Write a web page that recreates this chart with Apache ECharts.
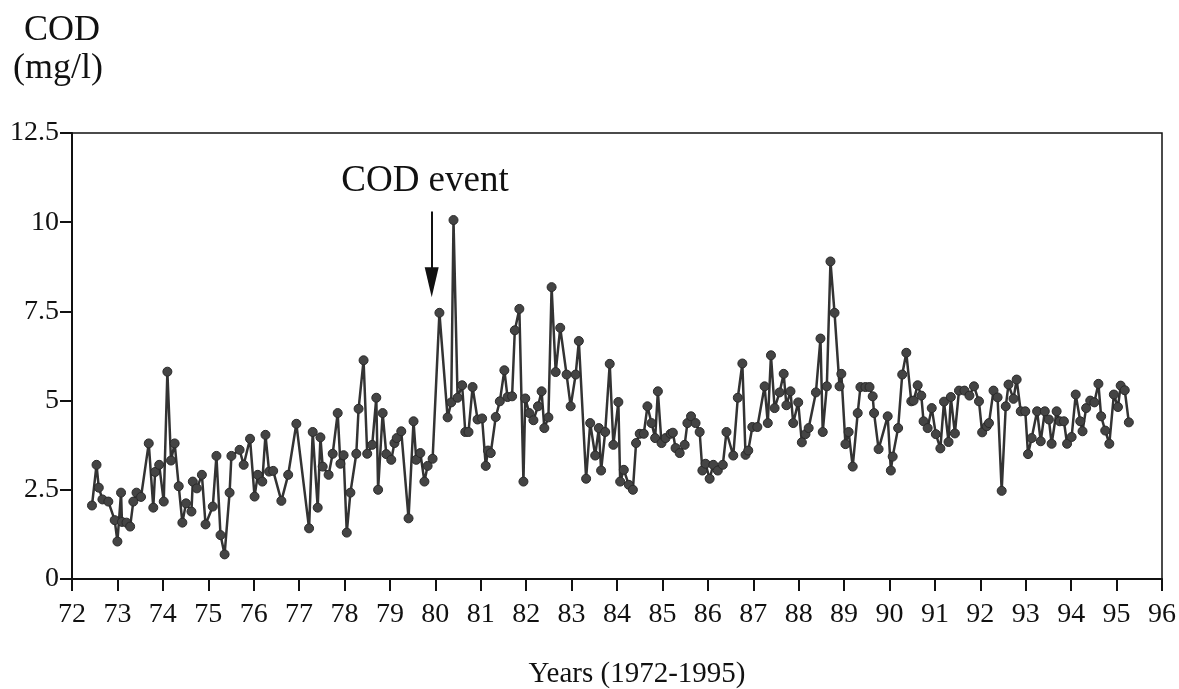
<!DOCTYPE html>
<html>
<head>
<meta charset="utf-8">
<script src="https://cdn.jsdelivr.net/npm/echarts@6/dist/echarts.min.js"></script>
<style>
	html, body { margin: 0; padding: 0; background: #fff; }
	#main { width: 1179px; height: 689px; }
</style>
</head>
<body>
<div id="main"></div>
<script>
// sample dates (decimal years, 72 = 1972)
var years = [
	72.44, 72.54, 72.59, 72.67, 72.8, 72.94, 73.0, 73.08, 73.1, 73.2, 73.28, 73.35, 73.42, 73.52, 73.69, 73.79, 73.83, 73.92,
	74.02, 74.1, 74.18, 74.26, 74.35, 74.43, 74.51, 74.63, 74.66, 74.75, 74.86, 74.94,
	75.1, 75.18, 75.27, 75.36, 75.47, 75.51, 75.69, 75.78, 75.92,
	76.02, 76.09, 76.19, 76.26, 76.34, 76.43, 76.61, 76.76, 76.94,
	77.22, 77.3, 77.41, 77.47, 77.52, 77.65, 77.74, 77.85, 77.91, 77.98,
	78.05, 78.13, 78.26, 78.31, 78.42, 78.5, 78.61, 78.7, 78.74, 78.84, 78.92,
	79.03, 79.1, 79.15, 79.25, 79.41, 79.52, 79.58, 79.67, 79.76, 79.83, 79.94,
	80.09, 80.27, 80.35, 80.4, 80.49, 80.59, 80.66, 80.73, 80.82, 80.93,
	81.03, 81.11, 81.16, 81.22, 81.33, 81.42, 81.52, 81.59, 81.69, 81.75, 81.85, 81.94, 81.98,
	82.07, 82.16, 82.26, 82.34, 82.4, 82.49, 82.56, 82.65, 82.75, 82.89, 82.98,
	83.09, 83.16, 83.32, 83.41, 83.52, 83.6, 83.65, 83.74, 83.84, 83.92,
	84.03, 84.07, 84.15, 84.26, 84.35, 84.42, 84.5, 84.59, 84.67, 84.76, 84.84, 84.9, 84.98,
	85.07, 85.18, 85.23, 85.29, 85.38, 85.49, 85.55, 85.63, 85.73, 85.82, 85.88, 85.95,
	86.04, 86.12, 86.22, 86.33, 86.41, 86.56, 86.66, 86.76, 86.83, 86.89, 86.98,
	87.09, 87.25, 87.32, 87.39, 87.47, 87.58, 87.67, 87.73, 87.82, 87.88, 87.99,
	88.07, 88.15, 88.22, 88.38, 88.48, 88.53, 88.62, 88.7, 88.79, 88.9, 88.94,
	89.03, 89.1, 89.19, 89.3, 89.36, 89.47, 89.56, 89.63, 89.66, 89.76, 89.96,
	90.03, 90.07, 90.19, 90.28, 90.37, 90.48, 90.53, 90.62, 90.7, 90.75, 90.84, 90.93,
	91.02, 91.12, 91.2, 91.3, 91.35, 91.44, 91.53, 91.65, 91.76, 91.86, 91.97,
	92.04, 92.14, 92.19, 92.29, 92.38, 92.47, 92.56, 92.62, 92.73, 92.8, 92.89, 92.99,
	93.05, 93.13, 93.25, 93.33, 93.42, 93.51, 93.57, 93.68, 93.75, 93.84, 93.91,
	94.01, 94.1, 94.2, 94.25, 94.33, 94.42, 94.51, 94.6, 94.66, 94.75, 94.84, 94.94,
	95.03, 95.09, 95.18, 95.27
];
// COD (mg/l) at each date
var cod = [
	2.06, 3.2, 2.56, 2.23, 2.17, 1.65, 1.05, 2.42, 1.6, 1.58, 1.47, 2.17, 2.42, 2.3, 3.8, 2.0, 3.0, 3.2,
	2.17, 5.81, 3.32, 3.8, 2.6, 1.58, 2.12, 1.89, 2.73, 2.54, 2.92, 1.53,
	2.03, 3.45, 1.23, 0.69, 2.42, 3.45, 3.62, 3.2, 3.93,
	2.31, 2.92, 2.73, 4.04, 3.01, 3.03, 2.19, 2.92, 4.35,
	1.42, 4.12, 2.0, 3.97, 3.15, 2.92, 3.51, 4.65, 3.23, 3.47,
	1.3, 2.42, 3.51, 4.77, 6.13, 3.51, 3.76, 5.08, 2.5, 4.65, 3.5,
	3.34, 3.81, 3.95, 4.14, 1.7, 4.42, 3.34, 3.53, 2.73, 3.17, 3.37,
	7.46, 4.53, 4.95, 10.06, 5.08, 5.43, 4.12, 4.12, 5.38, 4.47,
	4.5, 3.17, 3.6, 3.53, 4.54, 4.98, 5.85, 5.1, 5.12, 6.97, 7.57, 2.73, 5.06,
	4.65, 4.45, 4.84, 5.26, 4.23, 4.53, 8.18, 5.8, 7.04, 5.73, 4.84,
	5.73, 6.67, 2.81, 4.37, 3.46, 4.23, 3.04, 4.12, 6.03, 3.76,
	4.96, 2.73, 3.06, 2.64, 2.5, 3.81, 4.07, 4.07, 4.84, 4.37, 3.95, 5.26, 3.81,
	3.95, 4.07, 4.1, 3.67, 3.53, 3.76, 4.37, 4.56, 4.37, 4.12, 3.04, 3.23,
	2.81, 3.2, 3.04, 3.2, 4.12, 3.46, 5.08, 6.04, 3.48, 3.6, 4.26,
	4.26, 5.4, 4.37, 6.27, 4.79, 5.23, 5.75, 4.87, 5.26, 4.37, 4.95,
	3.83, 4.06, 4.23, 5.23, 6.74, 4.12, 5.4, 8.9, 7.46, 5.4, 5.75,
	3.78, 4.12, 3.15, 4.65, 5.38, 5.38, 5.38, 5.12, 4.65, 3.64, 4.56,
	3.04, 3.43, 4.23, 5.73, 6.34, 4.98, 5.0, 5.43, 5.14, 4.42, 4.23, 4.79,
	4.06, 3.66, 4.97, 3.84, 5.1, 4.08, 5.28, 5.28, 5.14, 5.4, 4.98,
	4.11, 4.28, 4.37, 5.28, 5.09, 2.47, 4.84, 5.45, 5.05, 5.59, 4.7, 4.7,
	3.5, 3.95, 4.7, 3.86, 4.7, 4.47, 3.79, 4.7, 4.42, 4.42, 3.79,
	3.98, 5.17, 4.42, 4.14, 4.79, 5.0, 4.95, 5.47, 4.56, 4.16, 3.79, 5.17,
	4.82, 5.42, 5.29, 4.39
];
var yTicks = [0, 2.5, 5, 7.5, 10, 12.5];
// "COD event" arrow, in data units
var eventYear = 79.92;
var eventTop = 10.3;
var eventEnd = 8.32;   // centre of the arrow head

var chart = echarts.init(document.getElementById('main'));
var serif = '"Liberation Serif", "DejaVu Serif", serif';

var pts = [];
for (var i = 0; i < years.length; i++) {
	pts.push([years[i], cod[i]]);
}

chart.setOption({
	animation: false,
	backgroundColor: '#fff',
	textStyle: { fontFamily: serif, color: '#111' },
	grid: {
		left: 72, right: 16, top: 133, bottom: 110,
		show: true, borderColor: '#111', borderWidth: 1.5, backgroundColor: 'transparent'
	},
	xAxis: {
		type: 'value',
		min: 72, max: 96, interval: 1,
		axisLine: { lineStyle: { color: '#111', width: 2 } },
		axisTick: { length: 12, lineStyle: { color: '#111', width: 2 } },
		axisLabel: { fontFamily: serif, fontSize: 28, color: '#111', margin: 22 },
		splitLine: { show: false }
	},
	yAxis: {
		type: 'value',
		min: yTicks[0], max: yTicks[yTicks.length - 1], interval: 2.5,
		axisLine: { show: true, lineStyle: { color: '#111', width: 2 } },
		axisTick: { show: true, length: 12, lineStyle: { color: '#111', width: 2 } },
		axisLabel: { fontFamily: serif, fontSize: 28, color: '#111', margin: 13 },
		splitLine: { show: false }
	},
	graphic: [
		{ type: 'text', left: 24, top: 13, style: { text: 'COD', font: '36px ' + serif, fill: '#111' } },
		{ type: 'text', left: 13, top: 51, style: { text: '(mg/l)', font: '36px ' + serif, fill: '#111' } },
		{ type: 'text', x: 425, y: 163, style: { text: 'COD event', font: '37px ' + serif, fill: '#111', textAlign: 'center' } },
		{ type: 'text', x: 637, y: 660, style: { text: 'Years (1972-1995)', font: '29px ' + serif, fill: '#111', textAlign: 'center' } }
	],
	series: [{
		type: 'line',
		data: pts,
		symbol: 'circle',
		symbolSize: 9,
		showAllSymbol: true,
		lineStyle: { color: '#333', width: 2.5 },
		itemStyle: { color: '#444', borderColor: '#2a2a2a', borderWidth: 1 },
		markLine: {
			silent: true,
			symbol: ['none', 'triangle'],
			symbolSize: [14, 30],
			lineStyle: { color: '#111', width: 2, type: 'solid' },
			label: { show: false },
			data: [[
				{ coord: [eventYear, eventTop] },
				{ coord: [eventYear, eventEnd] }
			]]
		}
	}]
});
</script>
</body>
</html>
